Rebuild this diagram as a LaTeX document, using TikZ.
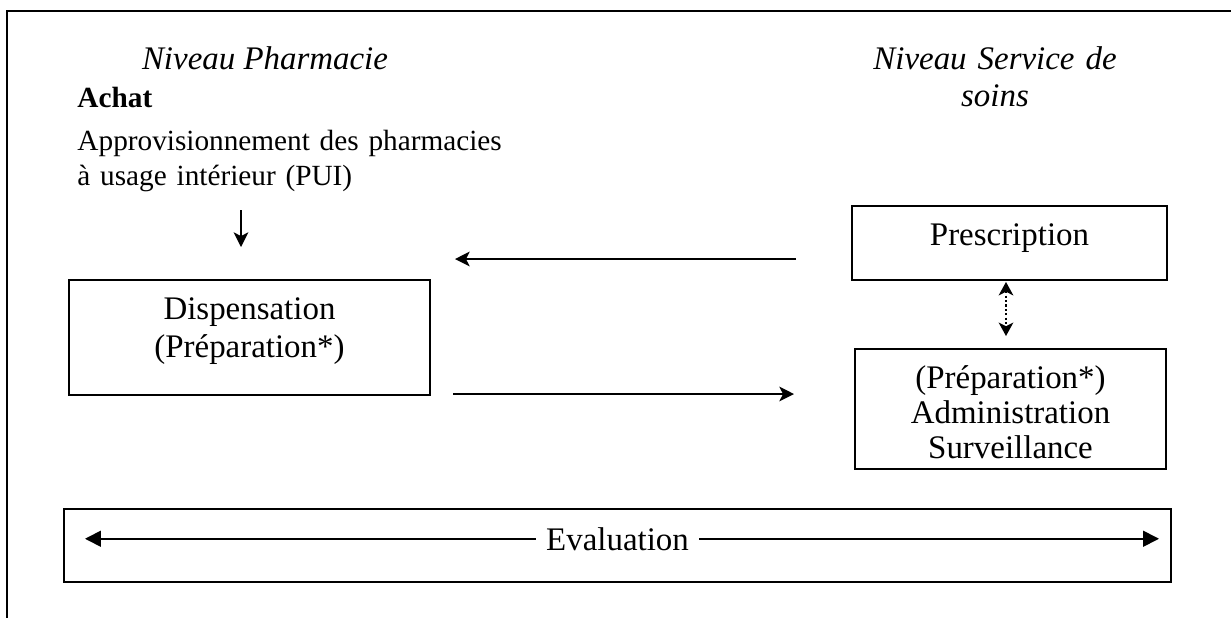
\documentclass[tikz,border=0pt]{standalone}
\usepackage{fontspec}
\setmainfont{Liberation Serif}
\usepackage{tikz}
\usetikzlibrary{arrows.meta}
\usetikzlibrary{positioning}
\newdimen\px \px=0.41pt
\newcommand{\bodyfont}{\fontsize{12}{14.35}\selectfont}
\newcommand{\headfont}{\fontsize{13.5}{15.2}\selectfont\itshape}
\tikzstyle{block} = [rectangle, draw, line width=0.8pt, inner sep=0pt, align=center,
font=\fontsize{13.5}{14.8}\selectfont]
\tikzstyle{title} = [inner sep=0pt, align=center, font=\headfont]
\tikzstyle{plain} = [inner sep=0pt, align=left, font=\bodyfont]
\tikzstyle{line} = [draw, -{Stealth[length=6pt,width=6pt,inset=1.5pt]}, line width=0.7pt]
\tikzstyle{dots} = [draw, {Stealth[length=5.5pt,width=6pt,inset=1.5pt]}-{Stealth[length=5.5pt,width=6pt,inset=1.5pt]}, line width=0.7pt, dash pattern=on 0.9pt off 0.9pt]
\tikzstyle{evline} = [draw, -{Triangle[length=6.5pt,width=6.5pt]}, line width=0.7pt]

\begin{document}
\begin{tikzpicture}[x=0.41pt, y=-0.41pt]
\useasboundingbox (0,0) rectangle (1231,618);
\draw[line width=0.8pt] (1231,11) -- (7,11) -- (7,618);

% Place nodes
	\node [title, anchor=base] (pharma) at (265,69) {Niveau Pharmacie};
	\node [title, anchor=base, text width=110pt] (service) at (995,69) {Niveau Service de\\soins};
	\node [plain, anchor=base west, font=\bodyfont\bfseries] (achat) at (77,107) {Achat};
	\node [plain, anchor=base west, text width=200pt] (pui) at (77,150) {Approvisionnement des pharmacies\\à usage intérieur (PUI)};
	\node [block, anchor=north, text width=361\px, text height=40\px, text depth=75\px,
	font=\fontsize{13.5}{15.2}\selectfont] (disp) at (249.5,279) {Dispensation\\(Préparation*)};
	\node [block, anchor=north, text width=315\px, text height=40\px, text depth=34\px] (presc) at (1009.5,205) {Prescription};
	\node [block, anchor=north, text width=311\px, text height=40\px, text depth=80\px,
	font=\fontsize{13.5}{14.35}\selectfont] (admin) at (1010.5,348) {(Préparation*)\\Administration\\Surveillance};
	\node [block, minimum width=1107\px, minimum height=73\px] (evalbox) at (617.5,545.5) {};
	\node [inner sep=4pt, font=\fontsize{13.5}{14.8}\selectfont, anchor=base] (evaltxt) at (617.5,550) {Evaluation};

% Free ends
	\coordinate (buyA) at (241,210);
	\coordinate (buyB) at (241,247);
	\coordinate (prescEnd) at (796,259);
	\coordinate (dispEnd) at (455,259);
	\coordinate (dispOut) at (453,394);
	\coordinate (adminEnd) at (794,394);
	\coordinate (evL) at (85,537);
	\coordinate (evR) at (1159,537);

% Draw edges
	\path [line] (buyA) -- (buyB);
	\path [line] (prescEnd) -- (dispEnd);
	\path [line] (dispOut) -- (adminEnd);
	\path [dots, shorten <=1\px, shorten >=12\px] ([xshift=-3.5\px]presc.south) -- ([xshift=-3.5\px]presc.south |- admin.north);
	\path [evline] (evaltxt.west) -- (evaltxt.west -| evL);
	\path [evline] (evaltxt.east) -- (evaltxt.east -| evR);

\end{tikzpicture}
\end{document}
